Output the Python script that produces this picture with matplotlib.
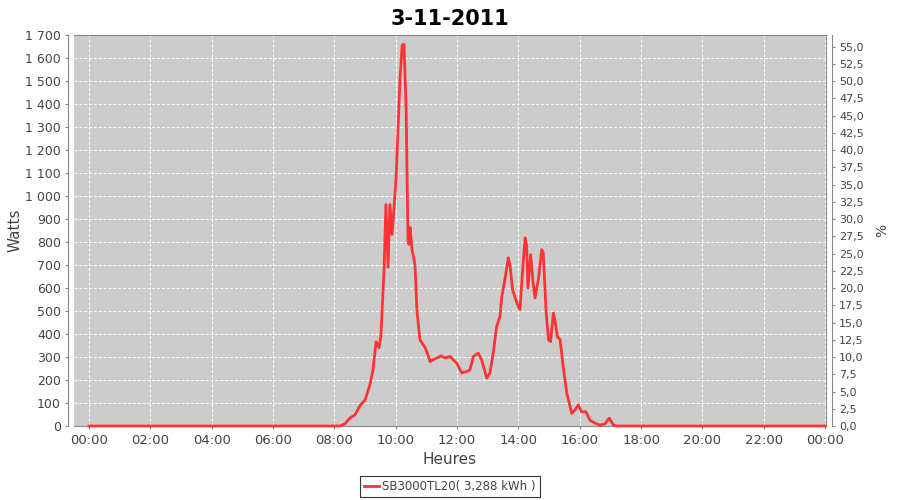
import numpy as np
import matplotlib.pyplot as plt
from matplotlib.ticker import FuncFormatter

# power readings (hour of day, watts)
heures = [0.0, 8.18, 8.35, 8.51, 8.67, 8.84, 9.00, 9.16, 9.26, 9.36, 9.46, 9.52,
          9.62, 9.68, 9.75, 9.81, 9.88, 9.94, 10.01, 10.07, 10.14, 10.21, 10.27,
          10.34, 10.40, 10.43, 10.47, 10.53, 10.63, 10.69, 10.79, 10.96, 11.05,
          11.12, 11.22, 11.35, 11.48, 11.61, 11.77, 11.99, 12.15, 12.32, 12.42,
          12.53, 12.69, 12.80, 12.97, 13.07, 13.18, 13.29, 13.40, 13.46, 13.56,
          13.67, 13.73, 13.81, 13.95, 14.05, 14.14, 14.22, 14.27, 14.31, 14.40,
          14.47, 14.54, 14.65, 14.76, 14.81, 14.90, 14.98, 15.05, 15.14, 15.19,
          15.27, 15.36, 15.46, 15.58, 15.74, 15.85, 15.95, 16.06, 16.20, 16.33,
          16.50, 16.66, 16.82, 16.96, 17.10, 17.22, 24.0]
watts = [0, 0, 10, 35, 48, 90, 113, 180, 245, 366, 340, 397,
         680, 963, 690, 963, 833, 940, 1072, 1270, 1508, 1655, 1660,
         1377, 810, 790, 863, 767, 700, 505, 375, 340, 310,
         280, 288, 296, 305, 296, 302, 273, 231, 237, 244,
         302, 317, 288, 208, 230, 317, 433, 476, 564, 636,
         731, 694, 593, 535, 506, 680, 818, 782, 600, 745,
         636, 557, 636, 767, 753, 506, 375, 367, 491, 462,
         389, 375, 258, 142, 55, 70, 92, 62, 62, 26,
         12, 4, 9, 34, 4, 0, 0]

xtick_pos = np.arange(0, 25, 2)
xtick_labels = ["%02d:00" % (h % 24) for h in xtick_pos]
ytick_left = np.arange(0, 1701, 100)
ytick_right = np.arange(0, 55.1, 2.5)

grey_txt = "#444444"

fig = plt.figure(figsize=(9, 5), dpi=100)
ax = fig.add_axes([0.0822, 0.148, 0.8356, 0.782])
ax.set_facecolor("#cccccc")

ax.plot(heures, watts, color="#ff3333", linewidth=2, label="SB3000TL20( 3,288 kWh )",
        zorder=3, clip_on=False)

ax.set_xlim(-0.49, 24.03)
ax.set_ylim(0, 1700)
ax.set_xticks(xtick_pos)
ax.set_xticklabels(xtick_labels)
ax.set_yticks(ytick_left)
ax.yaxis.set_major_formatter(FuncFormatter(lambda v, p: "{:,}".format(int(v)).replace(",", " ")))
ax.grid(True, color="white", linestyle=(0, (3, 2)), linewidth=0.7)

for s in ["top", "right", "bottom"]:
    ax.spines[s].set_color("#888888")
ax.spines["left"].set_position(("outward", 4))
ax.spines["left"].set_color("#888888")
ax.tick_params(axis="both", colors="#888888", labelcolor=grey_txt, labelsize=9, length=2)
ax.tick_params(axis="x", labelsize=9.5)

ax.set_xlabel("Heures", fontsize=11, color=grey_txt, labelpad=4)
ax.set_ylabel("Watts", fontsize=11, color=grey_txt, labelpad=2)
ax.set_title("3-11-2011", fontsize=15, fontweight="bold", pad=7)

# right axis in percent, same scale as watts
ax2 = ax.twinx()
ax2.set_ylim(0, 56.7)
ax2.set_yticks(ytick_right)
ax2.yaxis.set_major_formatter(FuncFormatter(lambda v, p: ("%.1f" % v).replace(".", ",")))
ax2.spines["right"].set_position(("outward", 4))
ax2.spines["right"].set_color("#888888")
for s in ["top", "left", "bottom"]:
    ax2.spines[s].set_visible(False)
ax2.tick_params(axis="y", colors="#888888", labelcolor=grey_txt, labelsize=8, length=2)
ax2.set_ylabel("%", fontsize=10, color=grey_txt, labelpad=8)

leg = ax.legend(loc="upper center", bbox_to_anchor=(0.5, -0.112), frameon=True,
                fancybox=False, fontsize=8.5, handlelength=1.2, borderpad=0.35,
                handletextpad=0.3)
leg.get_frame().set_edgecolor("black")
leg.get_frame().set_linewidth(0.8)
for t in leg.get_texts():
    t.set_color(grey_txt)

plt.savefig("out.png", dpi=100)
